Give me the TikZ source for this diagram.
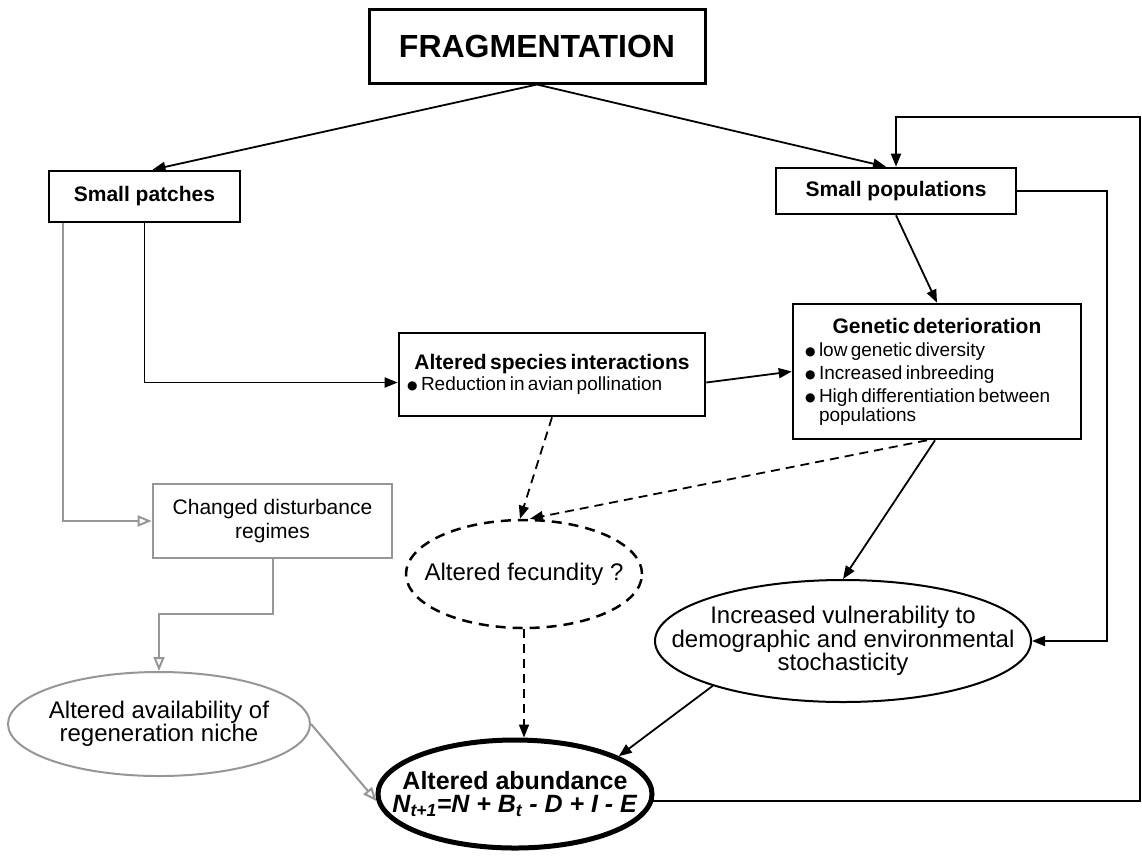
\documentclass[tikz,border=0pt]{standalone}
\usepackage{fontspec}
\setmainfont{Liberation Sans}
\newfontfamily\dotfont{DejaVu Sans}
\usetikzlibrary{arrows.meta,shapes.geometric,positioning}
\definecolor{greyline}{RGB}{150,150,150}
\newcommand{\bitem}[1]{\hangindent=14pt\hangafter=1\noindent\makebox[14pt][l]{\raisebox{1pt}{\fontsize{12}{12}\dotfont ●}}#1\par}

\begin{document}
\begin{tikzpicture}[x=1pt, y=-1pt,
		box/.style = {draw, line width=2.6pt, inner sep=0pt},
		titlefont/.style = {font=\fontsize{21}{23}\selectfont\bfseries},
		ellnode/.style = {ellipse, draw, line width=2pt, inner ysep=0pt, align=center,
			font=\fontsize{24}{21}\selectfont},
		arr/.style = {line width=1.8pt, -{Triangle[length=13pt,width=10pt]}},
		dasharr/.style = {arr, dash pattern=on 9pt off 6pt},
		greyarr/.style = {line width=2pt, greyline, -{Triangle[open,length=14pt,width=11pt]}}]
	\useasboundingbox (0,0) rectangle (1142,855);

	\node[box, line width=3pt, minimum width=336pt, minimum height=74pt,
		font=\fontsize{32}{36}\selectfont\bfseries] (frag) at (537,46) {FRAGMENTATION};

	\node[box, titlefont, minimum width=191pt, minimum height=51pt] (patch) at (144.5,196.5) {Small patches};
	\node[box, titlefont, minimum width=240pt, minimum height=46pt] (pop) at (896,191) {Small populations};

	\node[box, minimum width=306pt, minimum height=83pt, text width=290pt, align=left] (species) at (552,374.5)
		{{\centering\fontsize{21}{23}\selectfont\bfseries Altered species interactions\par}
		\fontsize{19}{19}\selectfont\setlength{\parskip}{2pt}\bitem{Reduction in avian pollination}};

	\node[box, minimum width=288pt, minimum height=135pt, text width=264pt, align=left] (gen) at (937,371.5)
		{{\centering\fontsize{21}{23}\selectfont\bfseries Genetic deterioration\par}
		\fontsize{19}{19}\selectfont\setlength{\parskip}{4pt}%
		\bitem{low genetic diversity}
		\bitem{Increased inbreeding}
		\bitem{High differentiation between populations}};

	\node[box, draw=greyline, minimum width=239pt, minimum height=74pt, align=center,
		font=\fontsize{21}{24}\selectfont] (chg) at (272.5,521) {Changed disturbance\\regimes};

	\node[ellnode, dashed, dash pattern=on 10pt off 7pt, line width=2.5pt, inner xsep=-20pt,
		minimum width=236pt, minimum height=108pt] (fec) at (524,574) {Altered fecundity ?};
	\node[ellnode, inner xsep=-45pt, minimum width=376pt, minimum height=122pt] (vuln) at (843,641)
		{Increased vulnerability to\\demographic and environmental\\stochasticity};
	\node[ellnode, draw=greyline, inner xsep=-16pt, minimum width=302pt, minimum height=104pt] (avail) at (159,724)
		{Altered availability of\\regeneration niche};
	\node[ellnode, line width=5pt, inner xsep=-40pt, minimum width=274pt, minimum height=108pt,
		font=\fontsize{25}{23}\selectfont\bfseries] (abund) at (515,794)
		{Altered abundance\\\textit{N\textsubscript{t+1}=N + B\textsubscript{t} - D + I - E}};

	\coordinate (loopR) at (1140,117);
	\coordinate (loopL) at (896,117);

	\draw[arr] (frag.south) -- ([xshift=8pt]patch.north);
	\draw[arr] (frag.south) -- ([xshift=-10pt]pop.north);
	\draw[arr] (patch.south) |- ([yshift=-8pt]species.west);
	\draw[arr] ([yshift=-8pt]species.east) -- (gen.west);
	\draw[arr] (pop.south) -- (gen.north);
	\draw[arr] (pop.east) -- ++(90,0) |- (vuln.east);
	\draw[arr] ([xshift=-2pt]gen.south) -- (vuln.north);
	\draw[dasharr] (species.south) -- ([xshift=-4pt]fec.north);
	\draw[dasharr] ([xshift=-10pt]gen.south) -- ([xshift=6pt]fec.north);
	\draw[dasharr] (fec.south) -- (fec.south |- abund.north);
	\draw[arr] (vuln.199) -- (abund.20);
	\draw[arr] (abund.357) -- (abund.357 -| loopR) -- (loopR) -- (loopL) -- (pop.north);

	\draw[greyarr] ([xshift=-82pt]patch.south) |- (chg.west);
	\draw[greyarr] (chg.south) -- ++(0,55) -| (avail.north);
	\draw[greyarr] (avail.east) -- (abund.183);
\end{tikzpicture}
\end{document}
